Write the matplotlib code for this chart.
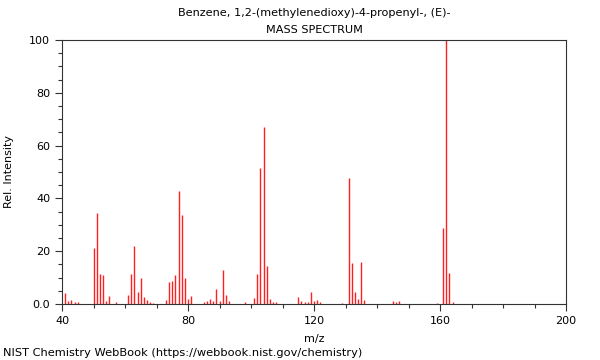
import matplotlib
matplotlib.use("Agg")
import matplotlib.pyplot as plt
from matplotlib.ticker import MultipleLocator, FuncFormatter

mz = [41, 42, 43, 44, 45, 50, 51, 52, 53, 54, 55, 57, 61, 62, 63, 64, 65, 66, 67, 68, 69,
      73, 74, 75, 76, 77, 78, 79, 80, 81, 85, 86, 87, 88, 89, 90, 91, 92, 93, 98,
      101, 102, 103, 104, 105, 106, 107, 108, 115, 116, 117, 118, 119, 120, 121, 122,
      129, 131, 132, 133, 134, 135, 136, 145, 146, 147, 159, 161, 162, 163, 164]
intensity = [4.2, 1.1, 1.5, 0.8, 0.8, 21.1, 34.6, 11.4, 11.0, 1.3, 3.2, 0.6, 3.4, 11.4, 22.0, 4.4, 9.7, 2.8, 1.5, 0.6, 0.5,
             1.6, 8.2, 8.8, 11.0, 42.9, 33.6, 10.0, 1.9, 2.9, 0.6, 1.3, 1.9, 1.3, 5.8, 1.1, 12.9, 3.4, 1.3, 0.9,
             2.1, 11.2, 51.4, 66.9, 14.5, 2.0, 0.9, 0.6, 2.8, 1.0, 0.9, 0.6, 4.7, 1.1, 1.6, 0.9,
             0.5, 47.8, 15.5, 4.7, 1.9, 15.8, 1.6, 1.0, 0.6, 1.3, 0.5, 28.7, 100.0, 11.8, 0.9]

title1 = "Benzene, 1,2-(methylenedioxy)-4-propenyl-, (E)-"
title2 = "MASS SPECTRUM"
footer = "NIST Chemistry WebBook (https://webbook.nist.gov/chemistry)"

plt.rcParams['font.family'] = ['DejaVu Sans']
fig = plt.figure(figsize=(6, 3.6), dpi=100)
ax = fig.add_axes([62/600, 1-304/360, (566-62)/600, (304-40)/360])

ax.vlines(mz, 0, intensity, colors='#ff2020', linewidth=1.0)

ax.set_xlim(40, 200)
ax.set_ylim(0, 100)
ax.xaxis.set_major_locator(MultipleLocator(40))
ax.xaxis.set_minor_locator(MultipleLocator(10))
ax.yaxis.set_major_locator(MultipleLocator(20))
ax.yaxis.set_minor_locator(MultipleLocator(5))
ax.yaxis.set_major_formatter(FuncFormatter(lambda v, p: "0.0" if v == 0 else f"{int(v)}"))
ax.tick_params(which='major', length=5, width=0.8, labelsize=8, colors='#333333', labelcolor='black')
ax.tick_params(which='minor', length=3, width=0.8, colors='#333333')
for s in ax.spines.values():
    s.set_color('#333333')
    s.set_linewidth(0.8)

ax.set_xlabel("m/z", fontsize=8, labelpad=6)
ax.set_ylabel("Rel. Intensity", fontsize=8, labelpad=11)
fig.text(314/600, 1-13/360, title1, ha='center', va='center', fontsize=8.1)
fig.text(314/600, 1-30/360, title2, ha='center', va='center', fontsize=8.1)
fig.text(3/600, 1-353/360, footer, ha='left', va='center', fontsize=8.2)

fig.savefig("out.png", dpi=100)
